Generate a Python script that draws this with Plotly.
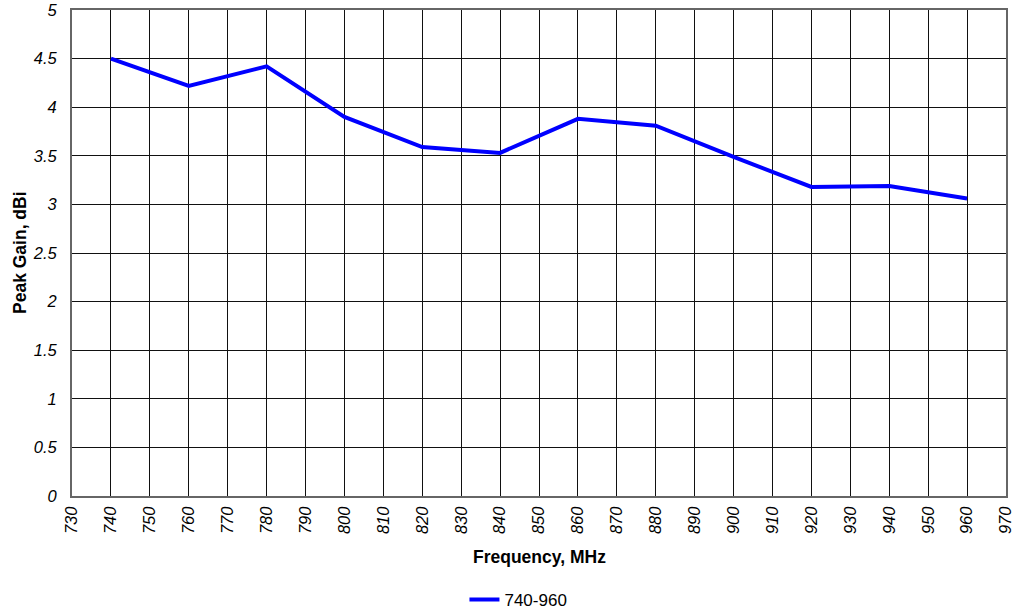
import plotly.graph_objects as go

freq = [740, 760, 780, 800, 820, 840, 860, 880, 900, 920, 940, 960]
gain = [4.50, 4.22, 4.42, 3.90, 3.59, 3.53, 3.88, 3.81, 3.49, 3.18, 3.19, 3.06]
series_name = "740-960"
x_ticks = list(range(730, 971, 10))
y_ticks = [0, 0.5, 1, 1.5, 2, 2.5, 3, 3.5, 4, 4.5, 5]
x_title = "Frequency, MHz"
y_title = "Peak Gain, dBi"

FONT = "Liberation Sans, Arial, sans-serif"

fig = go.Figure()
fig.add_trace(go.Scatter(x=freq, y=gain, mode="lines", name=series_name,
                         line=dict(color="#0000FF", width=4)))

fig.update_layout(
    width=1017, height=613,
    margin=dict(l=72, r=11, t=10, b=117, autoexpand=False),
    paper_bgcolor="white", plot_bgcolor="white",
    font=dict(family=FONT, size=16, color="black"),
    showlegend=True,
    legend=dict(orientation="h", x=0.478, xanchor="center",
                yref="container", y=13 / 613, yanchor="middle",
                font=dict(family=FONT, size=17, color="black")),
    annotations=[
        dict(text="<b>" + x_title + "</b>", xref="paper", yref="paper",
             x=0.5, y=-(557 - 496) / 486, xanchor="center", yanchor="middle",
             showarrow=False, font=dict(family=FONT, size=17.5)),
        dict(text="<b>" + y_title + "</b>", xref="paper", yref="paper",
             x=(20 - 72) / 934, y=0.5, xanchor="center", yanchor="middle",
             textangle=-90, showarrow=False, font=dict(family=FONT, size=17.5)),
    ],
)
fig.update_xaxes(
    range=[730, 970], tickvals=x_ticks, ticktext=[str(v) for v in x_ticks],
    tickangle=-90, tickfont=dict(family=FONT, size=16.5, style="italic"),
    showgrid=True, gridcolor="#111111", gridwidth=1,
    showline=True, linecolor="#666666", linewidth=2, mirror=True,
    zeroline=False, ticks="", ticklabelstandoff=2, automargin=False,
)
fig.update_yaxes(
    range=[0, 5], tickvals=y_ticks, ticktext=[("%g" % v) for v in y_ticks],
    tickfont=dict(family=FONT, size=16.5, style="italic"),
    showgrid=True, gridcolor="#111111", gridwidth=1,
    showline=True, linecolor="#666666", linewidth=2, mirror=True,
    zeroline=False, ticks="", ticklabelstandoff=10, automargin=False,
)

fig.write_html("out.html", config={"displayModeBar": False},
               post_script="document.body.style.margin='0';")
